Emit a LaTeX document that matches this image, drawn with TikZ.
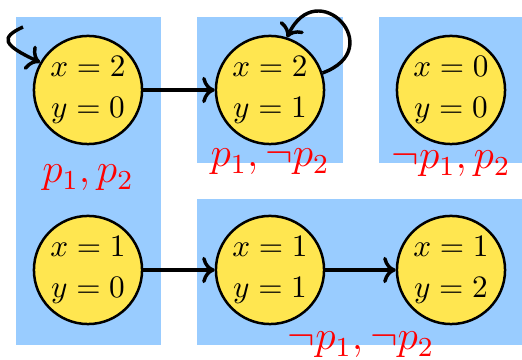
\documentclass[tikz,border=0pt]{standalone}
\usepackage{amsmath,amssymb}
\usepackage{tikz}
\usetikzlibrary{arrows.meta}
\definecolor{boxblue}{RGB}{153,204,255}
\definecolor{stateyellow}{RGB}{255,230,80}
\definecolor{labelred}{RGB}{255,0,0}

\tikzset{
    state/.style={circle, draw=black, line width=0.8pt, fill=stateyellow,
        minimum size=34.6pt, inner sep=0pt, align=center},
    propbox/.style={fill=boxblue, draw=none},
    proplabel/.style={text=labelred, font=\large, scale=1.1, inner sep=0pt},
    trans/.style={->, line width=1.1pt}
}

\begin{document}
\begin{tikzpicture}[x=16pt, y=16pt]
            \useasboundingbox (0,0) rectangle (10.44,7.2);
            
            % 蓝色区域
            \fill[propbox] (0.32,0.3) rectangle (3.22,6.86);
            \fill[propbox] (3.94,3.94) rectangle (6.86,6.86);
            \fill[propbox] (7.58,3.94) rectangle (10.44,6.86);
            \fill[propbox] (3.94,0.3) rectangle (10.44,3.22);
            
            % 状态
            \node[state] (s20) at (1.76,5.4) {$x=2$\\[1pt]$y=0$};
            \node[state] (s21) at (5.4,5.4) {$x=2$\\[1pt]$y=1$};
            \node[state] (s00) at (9.02,5.4) {$x=0$\\[1pt]$y=0$};
            \node[state] (s10) at (1.76,1.8) {$x=1$\\[1pt]$y=0$};
            \node[state] (s11) at (5.4,1.8) {$x=1$\\[1pt]$y=1$};
            \node[state] (s12) at (9.02,1.8) {$x=1$\\[1pt]$y=2$};
            
            % 标签
            \node[proplabel] (l1) at (1.76,3.64) {$p_1, p_2$};
            \node[proplabel] (l2) at (5.4,3.96) {$p_1, \neg p_2$};
            \node[proplabel] (l3) at (9.02,3.92) {$\neg p_1, p_2$};
            \node[proplabel] (l4) at (7.22,0.3) {$\neg p_1, \neg p_2$};
            
            % 初始箭头
            \coordinate (init) at (0.46,6.66);
            \draw[trans] (init) .. controls (0.0,6.45) and (0.05,6.3) .. (s20.150);
            
            % 转移
            \draw[trans] (s20) -- (s21);
            \draw[trans] (s21.18) to[out=20, in=65, looseness=3.6] (s21.72);
            \draw[trans] (s10) -- (s11);
            \draw[trans] (s11) -- (s12);
        \end{tikzpicture}
\end{document}
